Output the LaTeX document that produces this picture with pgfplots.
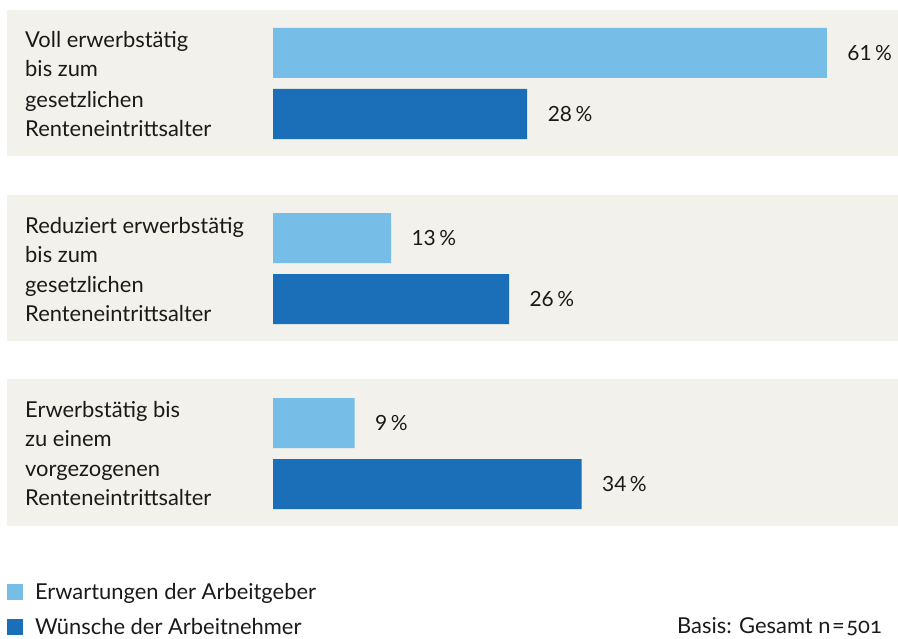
\documentclass[border=0pt]{standalone}
\usepackage{pgfplots}
\pgfplotsset{compat=1.18}
\usepackage{fontspec}
\setmainfont{Lato}
\definecolor{lightb}{HTML}{76BDE8}
\definecolor{darkb}{HTML}{1B6FB8}
\definecolor{panel}{HTML}{F2F1EB}
\definecolor{txt}{HTML}{1A1A1A}
\newcommand{\lab}{\fontsize{22}{26}\selectfont}
\newcommand{\val}{\fontsize{21}{25}\selectfont}
\begin{document}
\begin{tikzpicture}
\begin{axis}[
  width=898bp, height=639bp, scale only axis, hide axis, clip=false,
  xmin=-30.0661, xmax=68.8326, ymin=0, ymax=639, y dir=reverse,
  xbar, bar width=50, bar shift=0,
  /pgf/number format/assume math mode=true,
  point meta=x,
  nodes near coords={\pgfmathprintnumber{\pgfplotspointmeta}\,\%},
  every node near coord/.append style={font=\val, text=txt, anchor=west, xshift=17bp},
  legend image code/.code={\fill[#1] (0bp,-8bp) rectangle (16bp,8bp);},
  legend style={draw=none, fill=none, at={(axis cs:-29.295,583)}, anchor=north west,
    inner sep=0pt, outer sep=0pt, row sep=18bp, font=\lab, text=txt,
    nodes={inner xsep=12bp, inner ysep=0pt}},
  legend cell align=left,
]
\fill[panel] (axis cs:-29.295,10) rectangle (axis cs:68.8326,156);
\fill[panel] (axis cs:-29.295,195) rectangle (axis cs:68.8326,341);
\fill[panel] (axis cs:-29.295,379) rectangle (axis cs:68.8326,526);
\addplot[fill=lightb, draw=none] coordinates {(61,53) (13,238) (9,423)};
\addlegendentry{Erwartungen der Arbeitgeber}
\addplot[fill=darkb, draw=none] coordinates {(28,114) (26,299) (34,484)};
\addlegendentry{Wünsche der Arbeitnehmer}
\foreach \t/\y in {Voll erwerbstätig/48, bis zum/77, gesetzlichen/107, Renteneintrittsalter/136,
  Reduziert erwerbstätig/233, bis zum/262, gesetzlichen/292, Renteneintrittsalter/321,
  Erwerbstätig bis/417, zu einem/446, vorgezogenen/476, Renteneintrittsalter/505}{
  \edef\tmp{\noexpand\node[anchor=base west, font=\noexpand\lab, text=txt, inner sep=0pt] at (axis cs:-27.31,\y) {\t};}
  \tmp
}
\node[anchor=base east, font=\lab, text=txt, inner sep=0pt] at (axis cs:67.07,633)
  {Basis: Gesamt n\kern1.5bp=\kern1.5bp{\addfontfeatures{Numbers=OldStyle}501}};
\end{axis}
\path (current axis.south west) rectangle (current axis.north east);
\end{tikzpicture}
\end{document}
